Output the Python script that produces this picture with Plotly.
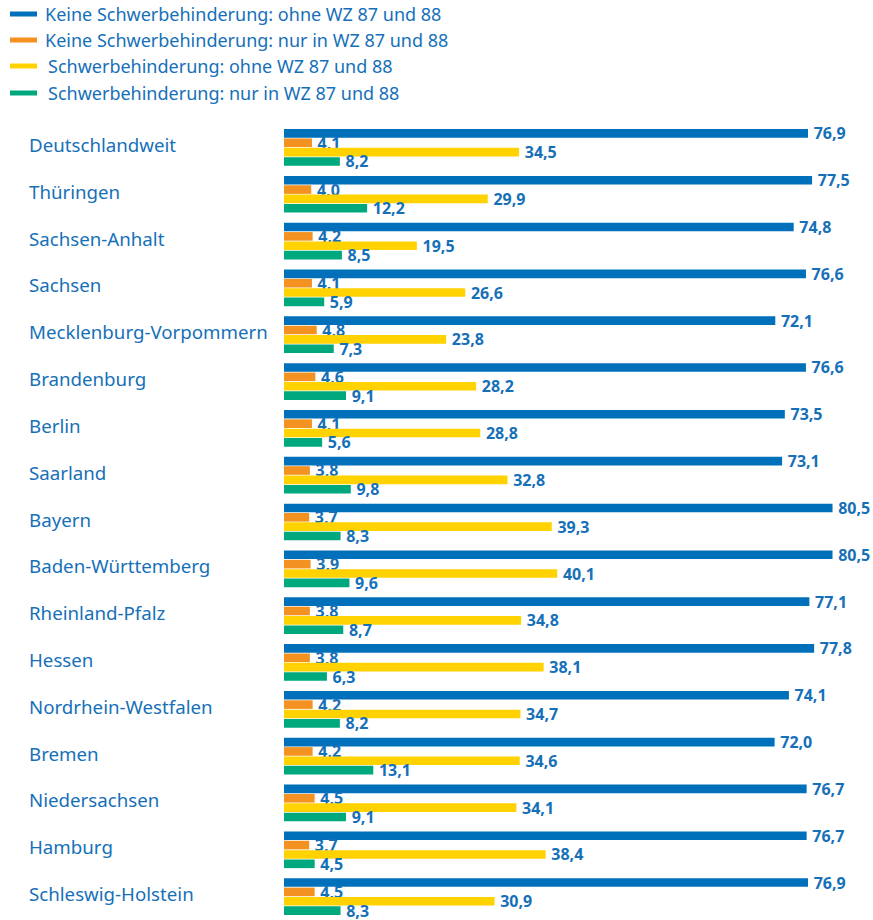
import plotly.graph_objects as go

categories = ["Deutschlandweit", "Thüringen", "Sachsen-Anhalt", "Sachsen",
              "Mecklenburg-Vorpommern", "Brandenburg", "Berlin", "Saarland",
              "Bayern", "Baden-Württemberg", "Rheinland-Pfalz", "Hessen",
              "Nordrhein-Westfalen", "Bremen", "Niedersachsen", "Hamburg",
              "Schleswig-Holstein"]
series_names = ["Keine Schwerbehinderung: ohne WZ 87 und 88",
                "Keine Schwerbehinderung: nur in WZ 87 und 88",
                "Schwerbehinderung: ohne WZ 87 und 88",
                "Schwerbehinderung: nur in WZ 87 und 88"]
kein_ohne = [76.9, 77.5, 74.8, 76.6, 72.1, 76.6, 73.5, 73.1, 80.5, 80.5, 77.1, 77.8, 74.1, 72.0, 76.7, 76.7, 76.9]
kein_nur = [4.1, 4.0, 4.2, 4.1, 4.8, 4.6, 4.1, 3.8, 3.7, 3.9, 3.8, 3.8, 4.2, 4.2, 4.5, 3.7, 4.5]
schwer_ohne = [34.5, 29.9, 19.5, 26.6, 23.8, 28.2, 28.8, 32.8, 39.3, 40.1, 34.8, 38.1, 34.7, 34.6, 34.1, 38.4, 30.9]
schwer_nur = [8.2, 12.2, 8.5, 5.9, 7.3, 9.1, 5.6, 9.8, 8.3, 9.6, 8.7, 6.3, 8.2, 13.1, 9.1, 4.5, 8.3]

colors = ["#0070BA", "#F39220", "#FFD200", "#00A87E"]
text_color = "#1670B8"
FONT = "Noto Sans"

W, H = 873, 920
L, T = 284, 124
PW = 586
PH = H - T
R = W - L - PW


def px(fx):
    return (fx - L) / PW


def py(fy):
    return (T + PH - fy) / PH


fig = go.Figure()
all_series = [kein_ohne, kein_nur, schwer_ohne, schwer_nur]
for name, vals, col in zip(series_names, all_series, colors):
    fig.add_trace(go.Bar(
        y=categories, x=vals, orientation="h", name=name,
        marker=dict(color=col, line=dict(width=0)),
        text=["\u2009" + f"{v:.1f}".replace(".", ",") for v in vals],
        textposition="outside", constraintext="none", cliponaxis=False,
        textfont=dict(family=FONT, size=16, color=text_color, weight="bold"),
        showlegend=False, hoverinfo="x+y",
    ))

for c in categories:
    fig.add_annotation(
        x=px(29 - 2), xref="paper", y=c, yref="y", text=c,
        xanchor="left", yanchor="middle", showarrow=False, yshift=3,
        font=dict(family=FONT, size=18.7, color=text_color),
    )

# legend (drawn manually to match the line-style swatches)
leg_y = [14, 40, 66, 93]
leg_tx = [45, 45, 48, 48]
for name, col, yy, tx in zip(series_names, colors, leg_y, leg_tx):
    fig.add_shape(type="line", xref="paper", yref="paper",
                  x0=px(10), x1=px(37), y0=py(yy), y1=py(yy),
                  line=dict(color=col, width=5))
    fig.add_annotation(x=px(tx - 2), y=py(yy), xref="paper", yref="paper",
                       text=name, showarrow=False, xanchor="left", yanchor="middle",
                       font=dict(family=FONT, size=18, color=text_color))

fig.update_layout(
    width=W, height=H,
    margin=dict(l=L, r=R, t=T, b=0, pad=0, autoexpand=False),
    paper_bgcolor="white", plot_bgcolor="white",
    barmode="group", bargap=0.2, bargroupgap=0.08,
    xaxis=dict(range=[0, 86], visible=False, fixedrange=True),
    yaxis=dict(autorange="reversed", showticklabels=False, showgrid=False,
               zeroline=False, showline=False, ticks=""),
    showlegend=False,
)

fig.write_html("out.html", config={"displayModeBar": False},
               post_script="document.body.style.margin='0';document.body.style.overflow='hidden';")
